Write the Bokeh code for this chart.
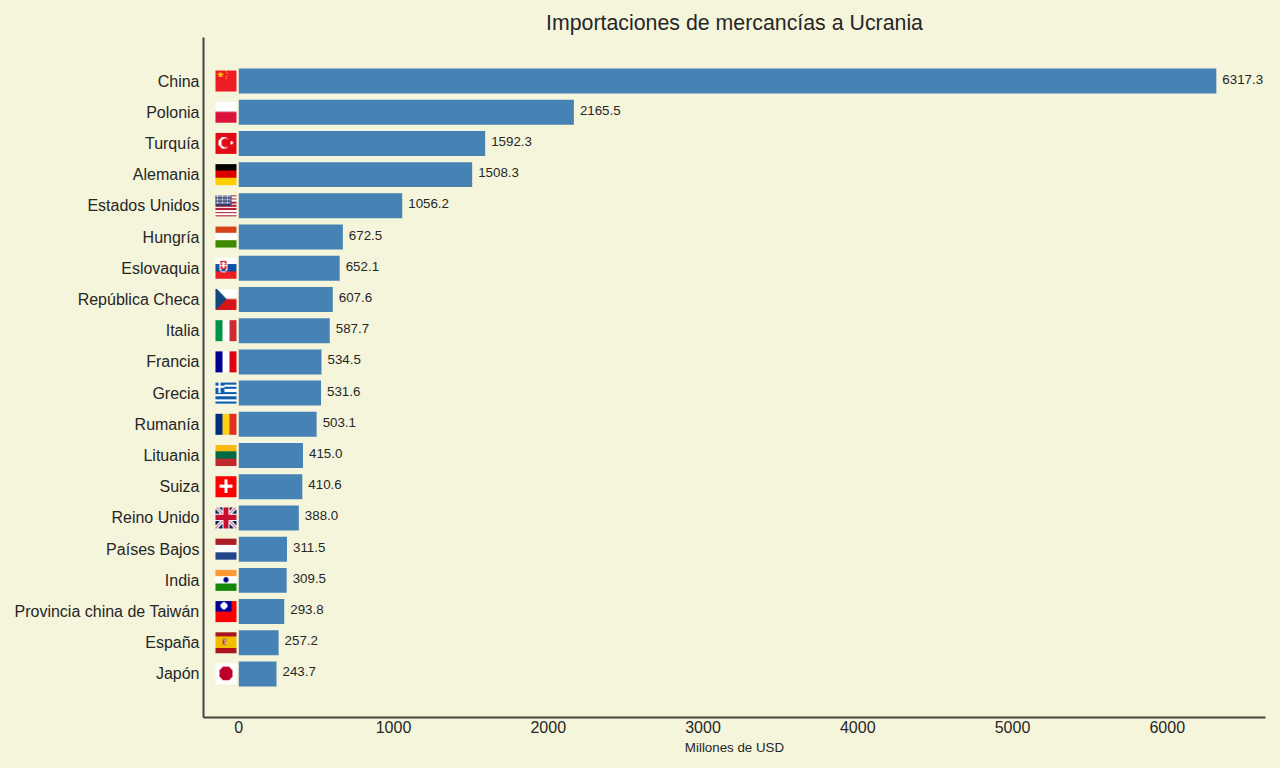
from bokeh.plotting import figure
from bokeh.embed import file_html
from bokeh.resources import INLINE
from bokeh.core.properties import value
from bokeh.models import ColumnDataSource, LabelSet, FixedTicker, Range1d
import numpy as np

countries = ["China", "Polonia", "Turquía", "Alemania", "Estados Unidos", "Hungría", "Eslovaquia",
             "República Checa", "Italia", "Francia", "Grecia", "Rumanía", "Lituania", "Suiza",
             "Reino Unido", "Países Bajos", "India", "Provincia china de Taiwán", "España", "Japón"]
values = [6317.3, 2165.5, 1592.3, 1508.3, 1056.2, 672.5, 652.1, 607.6, 587.7, 534.5,
          531.6, 503.1, 415.0, 410.6, 388.0, 311.5, 309.5, 293.8, 257.2, 243.7]
x_ticks = [0, 1000, 2000, 3000, 4000, 5000, 6000]

BG = "#f5f5dc"
BAR = "#4682b4"
INK = "#262626"
SPINE = "#45453d"
N = 21


def rgb(h):
    h = h.lstrip("#")
    return [int(h[i:i + 2], 16) for i in (0, 2, 4)]


def blank(c="#ffffff"):
    a = np.zeros((N, N, 3), dtype=np.uint8)
    a[:, :] = rgb(c)
    return a


def hstripes(*cols):
    a = blank()
    k = len(cols)
    for r in range(N):
        a[r, :] = rgb(cols[min(k - 1, r * k // N)])
    return a


def vstripes(*cols):
    a = blank()
    k = len(cols)
    for c in range(N):
        a[:, c] = rgb(cols[min(k - 1, c * k // N)])
    return a


def disc(a, cx, cy, r, col):
    yy, xx = np.mgrid[0:N, 0:N]
    a[(xx - cx) ** 2 + (yy - cy) ** 2 <= r * r] = rgb(col)


def china():
    a = blank("#ee1c25")
    y = rgb("#ffde00")
    a[4, 2:8] = y
    a[3:7, 4:6] = y
    a[6, 3] = y
    a[6, 6] = y
    for r, c in [(1, 10), (3, 11), (6, 11), (8, 10)]:
        a[r, c] = y
    return a


def poland():
    a = hstripes("#ffffff", "#dc143c")
    a[10, :] = rgb("#e8a0b0")
    return a


def turkey():
    a = blank("#e30a17")
    disc(a, 8, 10, 5.4, "#ffffff")
    disc(a, 9.5, 10, 4.2, "#e30a17")
    w = rgb("#ffffff")
    a[10, 15:18] = w
    a[9:12, 15:17] = w
    return a


def germany():
    return hstripes("#000000", "#dd0000", "#ffce00")


def usa():
    a = blank()
    for r in range(N):
        a[r, :] = rgb("#b22234") if int(r * 13 / N) % 2 == 0 else rgb("#ffffff")
    a[:11, :16] = rgb("#2e3a6e")
    w = rgb("#dfe3f0")
    for r in (1, 2, 4, 5, 7, 8):
        for c in (1, 2, 4, 6, 7, 9, 11, 12, 14):
            a[r, c] = w
    return a


def hungary():
    return hstripes("#d4421a", "#ffffff", "#3f8a00")


def slovakia():
    a = hstripes("#ffffff", "#0b4ea2", "#ee1c25")
    a[3:13, 4:12] = rgb("#ffffff")
    a[4:12, 5:11] = rgb("#ee1c25")
    a[13, 5:11] = rgb("#ffffff")
    a[14, 6:10] = rgb("#ffffff")
    a[5:11, 7:9] = rgb("#ffffff")
    a[6, 6:10] = rgb("#ffffff")
    a[8, 5:11] = rgb("#ffffff")
    a[12:14, 6:10] = rgb("#0b4ea2")
    return a


def czech():
    a = hstripes("#ffffff", "#d7141a")
    a[10, 11:] = rgb("#e8a0a0")
    for r in range(N):
        w = int(round(11 - abs(r - 10) * 1.05))
        a[r, :max(w, 0)] = rgb("#11457e")
    return a


def italy():
    return vstripes("#009246", "#ffffff", "#ce2b37")


def france():
    return vstripes("#000091", "#ffffff", "#e1000f")


def greece():
    a = blank()
    for r in range(N):
        if int(r * 9 / N) % 2 == 0:
            a[r, :] = rgb("#0d5eaf")
    a[:11, :9] = rgb("#0d5eaf")
    a[:11, 3:5] = rgb("#ffffff")
    a[4:6, :9] = rgb("#ffffff")
    return a


def romania():
    return vstripes("#002b7f", "#fcd116", "#e0301e")


def lithuania():
    return hstripes("#fdb913", "#006a44", "#c1272d")


def switzerland():
    a = blank("#ff0000")
    a[9:12, 4:17] = rgb("#ffffff")
    a[4:17, 9:12] = rgb("#ffffff")
    return a


def uk():
    a = blank("#012169")
    for r in range(N):
        for c in range(N):
            d1, d2 = abs(r - c), abs(r + c - (N - 1))
            if d1 <= 2 or d2 <= 2:
                a[r, c] = rgb("#ffffff")
            if d1 <= 0 or d2 <= 0:
                a[r, c] = rgb("#c8102e")
    a[7:14, :] = rgb("#ffffff")
    a[:, 7:14] = rgb("#ffffff")
    a[8:13, :] = rgb("#c8102e")
    a[:, 8:13] = rgb("#c8102e")
    return a


def netherlands():
    return hstripes("#ae1c28", "#ffffff", "#21468b")


def india():
    a = hstripes("#ff9933", "#ffffff", "#138808")
    disc(a, 10, 10, 2.3, "#000080")
    return a


def taiwan():
    a = blank("#fe0000")
    a[:11, :16] = rgb("#000095")
    disc(a, 8, 5, 3.2, "#ffffff")
    return a


def spain():
    a = blank("#f1bf00")
    a[:5, :] = rgb("#aa151b")
    a[16:, :] = rgb("#aa151b")
    a[7:13, 7:11] = rgb("#ad6b4a")
    a[8, 8:10] = rgb("#e8e0d0")
    a[10:12, 9:11] = rgb("#c8c0d8")
    a[9:11, 7:9] = rgb("#b22222")
    return a


def japan():
    a = blank()
    disc(a, 10, 10, 6.8, "#bc002d")
    return a


flag_painters = [china, poland, turkey, germany, usa, hungary, slovakia, czech, italy, france,
                 greece, romania, lithuania, switzerland, uk, netherlands, india, taiwan, spain, japan]

n = len(countries)
ypos = list(range(n - 1, -1, -1))
source = ColumnDataSource(dict(y=ypos, v=values, name=countries,
                               lab=[f"{v:.1f}" for v in values]))

p = figure(width=1280, height=768, output_backend="svg", toolbar_location=None,
           x_range=Range1d(-228, 6635), y_range=Range1d(-1.394, n - 1 + 1.394),
           background_fill_color=None, border_fill_color=BG, outline_line_color=None,
           min_border_left=203, min_border_right=15, min_border_top=37, min_border_bottom=51)

p.hbar(y="y", left=0, right="v", height=0.8, source=source, color=BAR, line_color=None)

# flags: 21 px squares left of the zero line, sized in data units
px_x = 1000 / 154.73
px_y = 1 / 31.21
for yp, paint in zip(ypos, flag_painters):
    arr = paint()[::-1]
    rgba = np.zeros((N, N), dtype=np.uint32)
    view = rgba.view(dtype=np.uint8).reshape((N, N, 4))
    view[:, :, :3] = arr
    view[:, :, 3] = 255
    p.image_rgba(image=[rgba], x=-23.3 * px_x, y=yp - 10.5 * px_y, dw=21 * px_x, dh=21 * px_y)

labels = LabelSet(x="v", y="y", text="lab", source=source, x_offset=6, y_offset=2,
                  text_font=value("Liberation Sans"), text_font_size=value("13.33px"), text_color=INK,
                  text_baseline="middle", text_align="left")
p.add_layout(labels)

p.title.text = "Importaciones de mercancías a Ucrania"
p.title.align = "center"
p.title.text_font = "Liberation Sans"
p.title.text_font_size = "21.33px"
p.title.text_font_style = "normal"
p.title.text_color = INK
p.title.standoff = 6

p.grid.visible = False

ax = p.xaxis[0]
ax.ticker = FixedTicker(ticks=x_ticks)
ax.axis_label = "Millones de USD"
ax.axis_label_text_font = "Liberation Sans"
ax.axis_label_text_font_size = "13.33px"
ax.axis_label_text_font_style = "normal"
ax.axis_label_text_color = INK
ax.axis_label_standoff = 4
ax.major_label_text_font = "Liberation Sans"
ax.major_label_text_font_size = "16px"
ax.major_label_text_color = INK
ax.major_label_standoff = 3
ax.major_tick_line_color = None
ax.minor_tick_line_color = None
ax.major_tick_out = 0
ax.major_tick_in = 0
ax.minor_tick_out = 0
ax.minor_tick_in = 0
ax.axis_line_color = SPINE
ax.axis_line_width = 2

ay = p.yaxis[0]
ay.ticker = FixedTicker(ticks=ypos)
ay.major_label_overrides = {y: name for y, name in zip(ypos, countries)}
ay.major_label_text_font = "Liberation Sans"
ay.major_label_text_font_size = "16px"
ay.major_label_text_color = INK
ay.major_label_standoff = 4
ay.major_tick_line_color = None
ay.minor_tick_line_color = None
ay.major_tick_out = 0
ay.major_tick_in = 0
ay.minor_tick_out = 0
ay.minor_tick_in = 0
ay.axis_line_color = SPINE
ay.axis_line_width = 2

html = file_html(p, INLINE)
html = html.replace("</head>", f"<style>html,body{{background:{BG};}}</style></head>", 1)
open("out.html", "w").write(html)
